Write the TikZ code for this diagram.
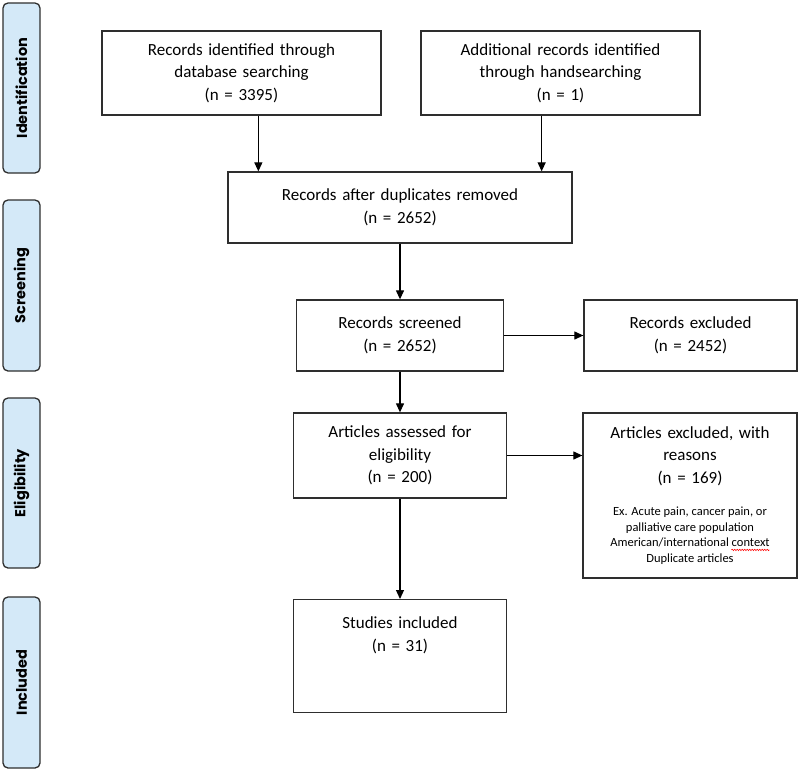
\documentclass[tikz,border=0pt]{standalone}
\usepackage{fontspec}
\setmainfont{Carlito}
\newfontfamily\stagefont{Poppins}
\usetikzlibrary{arrows.meta,decorations.pathmorphing}
\definecolor{stageblue}{HTML}{D4E9F8}
\definecolor{edge}{HTML}{2E2E2E}
\newlength\wavelen
\newcommand\spellwave[1]{\settowidth\wavelen{#1}#1\llap{\tikz[baseline=3pt]\draw[red, line width=0.6pt, decorate,
  decoration={snake, amplitude=0.7pt, segment length=2.5pt}] (0pt,0pt) -- (\wavelen,0pt);}}
\begin{document}
\begin{tikzpicture}[x=1pt, y=-1pt,
    stage/.style={draw=edge, fill=stageblue, line width=1.3pt, rounded corners=5pt, rotate=90,
      minimum width=170pt, minimum height=37pt, inner sep=0pt, font=\stagefont\bfseries\fontsize{14.5}{16}\selectfont},
    box/.style={draw=edge, line width=1.3pt, inner sep=0pt, align=center, font=\fontsize{17}{22.5}\selectfont},
    arr/.style={-{Triangle[length=9pt,width=8pt]}, line width=1.2pt}]
  \useasboundingbox (0,0) rectangle (800,771);
  % stages on the left
  \node[stage] (ident) at (21.5,88) {Identification};
  \node[stage, minimum width=171pt] (screening) at (21.5,285.5) {Screening};
  \node[stage] (elig) at (21.5,483) {Eligibility};
  \node[stage, minimum width=171pt] (incl) at (21.5,682.5) {Included};

  % flow boxes
  \node[box, text width=279pt, minimum height=84pt] (dbase) at (241.5,73) {Records identified through\\database searching\\(n = 3395)};
  \node[box, text width=279pt, minimum height=84pt] (hand) at (560.5,73) {Additional records identified\\through handsearching\\(n = 1)};
  \node[box, text width=344pt, minimum height=71pt] (dup) at (400,207.5) {Records after duplicates removed\\(n = 2652)};
  \node[box, text width=207pt, minimum height=71pt] (screen) at (400,335.5) {Records screened\\(n = 2652)};
  \node[box, text width=213pt, minimum height=71pt] (recexcl) at (690.5,335.5) {Records excluded\\(n = 2452)};
  \node[box, text width=213pt, minimum height=85pt] (assess) at (400,455.5) {Articles assessed for\\eligibility\\(n = 200)};
  \node[box, text width=214pt, minimum height=165pt] (artexcl) at (690,495.5) {Articles excluded, with\\reasons\\(n = 169)\\[10pt]
    \parbox[t]{214pt}{\centering\fontsize{12.5}{15.5}\selectfont\spaceskip=0pt\xspaceskip=0pt
      Ex. Acute pain, cancer pain, or\\palliative care population\\American/international \spellwave{context}\\Duplicate articles}};
  \node[box, text width=213pt, anchor=north, text height=29pt, text depth=84pt] (studies) at (400,599) {Studies included\\(n = 31)};

  % connectors
  \coordinate (inL) at ([xshift=31pt]dup.north west);
  \coordinate (inR) at ([xshift=-31pt]dup.north east);
  \draw[arr] (inL |- dbase.south) -- (inL);
  \draw[arr] (inR |- hand.south) -- (inR);
  \draw[arr] (dup) -- (screen);
  \draw[arr] (screen) -- (recexcl);
  \draw[arr] (screen) -- (assess);
  \draw[arr] (assess.east) -- (assess.east -| artexcl.west);
  \draw[arr] (assess) -- (studies);
\end{tikzpicture}
\end{document}
